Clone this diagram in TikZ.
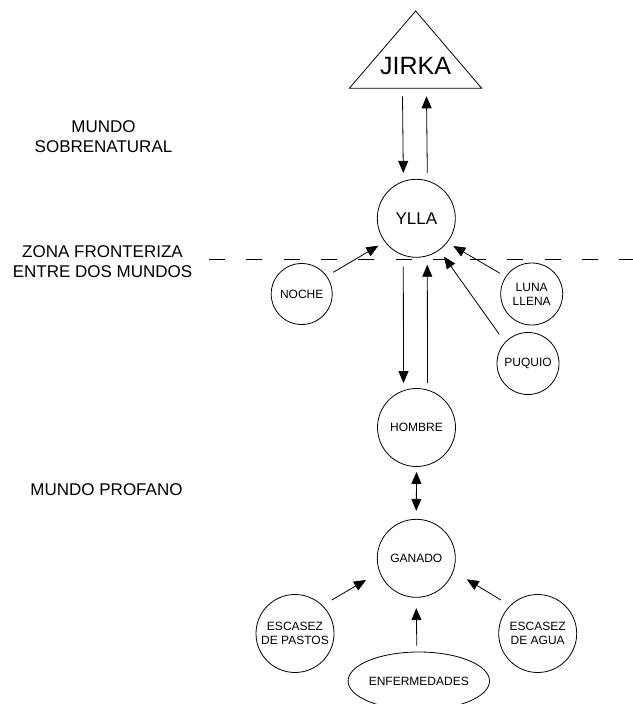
\documentclass[tikz,border=0pt]{standalone}
\usepackage{fontspec}
\setmainfont{Liberation Sans}
\usetikzlibrary{arrows.meta,shapes.geometric,calc}
\begin{document}
\begin{tikzpicture}[x=1pt,y=-1pt,
  circ/.style={circle,draw,line width=0.8pt,minimum size=78pt,inner sep=0pt,font=\fontsize{12}{14}\selectfont,align=center},
  scirc/.style={circ,minimum size=61pt},
  lbl/.style={font=\fontsize{17}{20}\selectfont,align=center},
  arr/.style={line width=0.8pt,-{Triangle[length=12pt,width=10pt]}},
  darr/.style={line width=0.8pt,{Triangle[length=12pt,width=10pt]}-{Triangle[length=12pt,width=10pt]}},
]
\useasboundingbox (0,0) rectangle (632,704);

% left labels
\node[lbl] (sobre) at (103.5,136.5) {MUNDO\\SOBRENATURAL};
\node[lbl] (zona) at (102.5,261.5) {ZONA FRONTERIZA\\ENTRE DOS MUNDOS};
\node[lbl] (profano) at (106.5,489.5) {MUNDO PROFANO};

% dashed boundary
\coordinate (dl) at (209,259);
\coordinate (dr) at (640,259);
\draw[line width=0.8pt,dash pattern=on 16pt off 21.3pt] (dl) -- (dr);

% JIRKA triangle
\coordinate (japex) at (415.7,11);
\coordinate (jbr) at (481.7,88.3);
\coordinate (jbl) at (349.3,88.3);
\coordinate (jb) at (415.5,88.3);
\draw[line width=0.8pt] (japex) -- (jbr) -- (jbl) -- cycle;
\node[font=\fontsize{25}{28}\selectfont] (jirka) at (415.5,66) {JIRKA};

% main nodes
\node[circ,font=\fontsize{17}{20}\selectfont] (ylla) at (416.3,218.3) {YLLA};
\node[circ] (hombre) at (416.5,427.5) {HOMBRE};
\node[circ] (ganado) at (416.3,558.3) {GANADO};
\node[scirc] (noche) at (301.7,294) {NOCHE};
\node[scirc,minimum size=62pt] (luna) at (531.7,294) {LUNA\\LLENA};
\node[scirc,minimum size=62pt] (puquio) at (528,363.5) {PUQUIO};
\node[circ] (pastos) at (295,633.5) {ESCASEZ\\DE PASTOS};
\node[circ] (agua) at (537.7,633.5) {ESCASEZ\\DE AGUA};
\node[ellipse,draw,line width=0.8pt,minimum width=121pt,minimum height=58pt,inner sep=0pt,font=\fontsize{12}{14}\selectfont] (enf) at (418.8,681) {ENFERMEDADES};

% connectors
\draw[arr] ($(jb)+(-13,8)$) -- ($(ylla.north)+(-13,-6)$);
\draw[arr] ($(ylla.north)+(11,-6)$) -- ($(jb)+(11,8)$);
\draw[arr] ($(ylla.south)+(-13,9)$) -- ($(hombre.north)+(-13,-5)$);
\draw[arr] ($(hombre.north)+(11,-5)$) -- ($(ylla.south)+(11,7)$);
\draw[darr] ($(hombre.south)+(0,5)$) -- ($(ganado.north)+(0,-8)$);

\draw[arr] ($(noche.center)+(31.6,-21.7)$) -- ($(ylla.center)+(-38,27.4)$);
\draw[arr] ($(luna.center)+(-31.7,-20.7)$) -- ($(ylla.center)+(37,27.7)$);
\draw[arr] ($(puquio.center)+(-28.7,-29.2)$) -- ($(ylla.center)+(27.7,38.4)$);

\draw[arr] ($(pastos.center)+(36.7,-33.5)$) -- ($(ganado.center)+(-50.3,21.7)$);
\draw[arr] ($(agua.center)+(-36.7,-33.5)$) -- ($(ganado.center)+(50.4,21)$);
\draw[arr] ($(enf.north)+(-2,-6)$) -- ($(ganado.south)+(0,10.4)$);
\end{tikzpicture}
\end{document}
